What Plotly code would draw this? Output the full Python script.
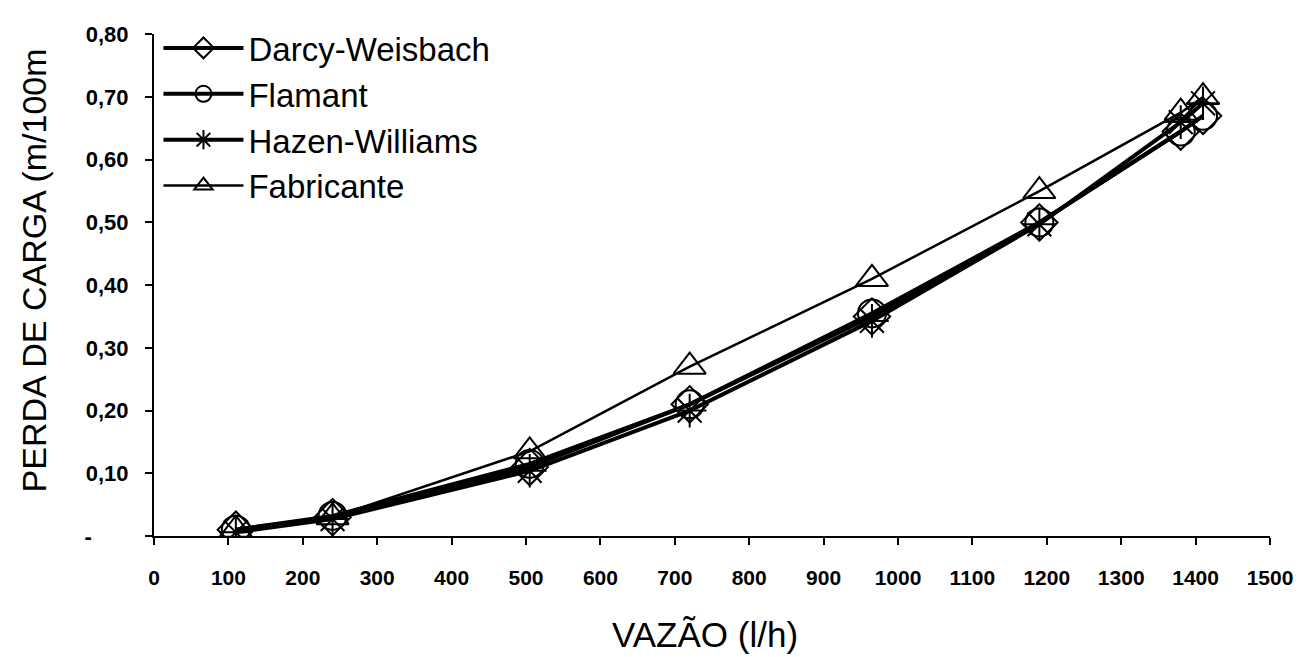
import plotly.graph_objects as go

vazao = [110, 240, 505, 720, 965, 1190, 1380, 1410]
darcy = [0.010, 0.030, 0.110, 0.210, 0.350, 0.500, 0.645, 0.670]
flamant = [0.010, 0.032, 0.115, 0.210, 0.355, 0.500, 0.645, 0.670]
hazen = [0.006, 0.027, 0.104, 0.200, 0.343, 0.497, 0.660, 0.690]
fabricante = [0.010, 0.030, 0.135, 0.270, 0.410, 0.550, 0.675, 0.700]

series_names = ["Darcy-Weisbach", "Flamant", "Hazen-Williams", "Fabricante"]
x_ticks = list(range(0, 1501, 100))
y_tickvals = [0, 0.1, 0.2, 0.3, 0.4, 0.5, 0.6, 0.7, 0.8]
y_ticktext = ["-" + "\u00a0" * 6, "0,10", "0,20", "0,30", "0,40", "0,50", "0,60", "0,70", "0,80"]

symbols = ["diamond-open", "circle-open", "asterisk-open", "triangle-up-open"]
widths = [4, 4, 4, 2.5]
values = [darcy, flamant, hazen, fabricante]

fig = go.Figure()
for name, ys, sym, w in zip(series_names, values, symbols, widths):
    fig.add_trace(go.Scatter(
        x=vazao, y=ys, name=name, mode="lines+markers", legendgroup=name,
        line=dict(color="black", width=w),
        marker=dict(symbol=sym, size=28, color="black",
                    line=dict(color="black", width=2)),
    ))

fig.update_layout(
    width=1307, height=657,
    paper_bgcolor="white", plot_bgcolor="white",
    margin=dict(l=146, r=45, t=12, b=129),
    font=dict(family="Liberation Sans, Arial, sans-serif", color="black"),
    showlegend=True,
    legend=dict(x=0.004, y=1.028, xanchor="left", yanchor="top",
                font=dict(size=33, color="black"),
                bgcolor="rgba(0,0,0,0)", itemsizing="trace",
                tracegroupgap=0, itemwidth=80),
    xaxis=dict(range=[0, 1500], tickvals=x_ticks,
               ticktext=[str(v) for v in x_ticks],
               showgrid=False, zeroline=False, showline=True,
               linecolor="black", linewidth=2, ticks="outside",
               ticklen=7, tickwidth=1.5, tickcolor="black",
               tickfont=dict(size=21, family="Liberation Sans, Arial", weight="bold"),
               ticklabelstandoff=15),
    yaxis=dict(range=[0, 0.8005], tickvals=y_tickvals, ticktext=y_ticktext,
               showgrid=False, zeroline=False, showline=True,
               linecolor="black", linewidth=2, ticks="outside",
               ticklen=7, tickwidth=1.5, tickcolor="black",
               tickfont=dict(size=22, family="Liberation Sans, Arial", weight="bold"),
               ticklabelstandoff=12),
)

fig.add_annotation(
    text="PERDA DE CARGA (m/100m", textangle=-90,
    xref="paper", yref="paper", x=-0.108, y=0.53,
    xanchor="center", yanchor="middle", showarrow=False,
    font=dict(size=34, color="black", family="Liberation Sans, Arial"),
)
fig.add_annotation(
    text="VAZÃO (l/h)",
    xref="paper", yref="paper", x=0.494, y=-0.196,
    xanchor="center", yanchor="middle", showarrow=False,
    font=dict(size=35, color="black", family="Liberation Sans, Arial"),
)

fig.write_html("out.html")
